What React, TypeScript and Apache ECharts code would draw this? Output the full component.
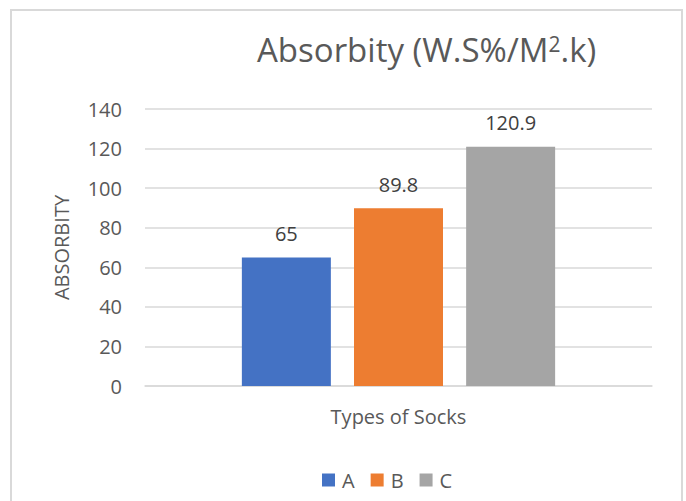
import React, { useEffect, useRef } from "react";
import * as echarts from "echarts";

const categories = ["Types of Socks"];
const seriesNames = ["A", "B", "C"];
const seriesValues = [[65], [89.8], [120.9]];
const seriesColors = ["#4472C4", "#ED7D31", "#A5A5A5"];
const yTicks = { min: 0, max: 140, interval: 20 };

const FONT = '"Open Sans", "Liberation Sans", sans-serif';

export default function App() {
  const ref = useRef<HTMLDivElement>(null);
  useEffect(() => {
    if (!ref.current) return;
    const chart = echarts.init(ref.current, undefined, { renderer: "svg" });
    chart.setOption({
      animation: false,
      backgroundColor: "#ffffff",
      textStyle: { fontFamily: FONT },
      graphic: [
        {
          type: "rect",
          shape: { x: 11, y: 10, width: 671, height: 510 },
          style: { fill: "none", stroke: "#d9d9d9", lineWidth: 2 },
          silent: true,
        },
      ],
      title: {
        text: "Absorbity (W.S%/M{sup|2}.k)",
        left: 252,
        top: 28,
        textStyle: {
          fontFamily: FONT,
          fontSize: 33,
          fontWeight: "normal",
          color: "#595959",
          rich: {
            sup: {
              fontFamily: FONT,
              fontSize: 21,
              color: "#595959",
              verticalAlign: "top",
            },
          },
        },
      },
      legend: {
        data: seriesNames,
        left: 317,
        top: 465,
        itemWidth: 13,
        itemHeight: 13,
        itemGap: 16,
        icon: "rect",
        textStyle: { fontFamily: FONT, fontSize: 20, color: "#595959", padding: [0, 0, 0, 2] },
      },
      grid: { left: 145, right: 34, top: 109, bottom: 115, containLabel: false },
      xAxis: {
        type: "category",
        data: categories,
        axisLine: { show: true, lineStyle: { color: "#d9d9d9", width: 1.5 } },
        axisTick: { show: false },
        axisLabel: { fontFamily: FONT, fontSize: 20, color: "#595959", margin: 20 },
      },
      yAxis: {
        type: "value",
        min: yTicks.min,
        max: yTicks.max,
        interval: yTicks.interval,
        name: "ABSORBITY",
        nameLocation: "middle",
        nameGap: 74,
        nameMoveOverlap: false,
        nameTextStyle: { fontFamily: FONT, fontSize: 20, color: "#595959" },
        axisLine: { show: false },
        axisTick: { show: false },
        axisLabel: { fontFamily: FONT, fontSize: 20, color: "#595959", margin: 23 },
        splitLine: { lineStyle: { color: "#d9d9d9", width: 1.5 } },
      },
      series: seriesNames.map((name, i) => ({
        name,
        type: "bar",
        data: seriesValues[i],
        barWidth: 89,
        barGap: "26%",
        itemStyle: { color: seriesColors[i] },
        label: {
          show: true,
          position: "top",
          distance: 14,
          fontFamily: FONT,
          fontSize: 20,
          color: "#404040",
        },
      })),
    });
    return () => chart.dispose();
  }, []);
  return (
    <div
      ref={ref}
      style={{ position: "fixed", left: 0, top: 0, width: 686, height: 501 }}
    />
  );
}
